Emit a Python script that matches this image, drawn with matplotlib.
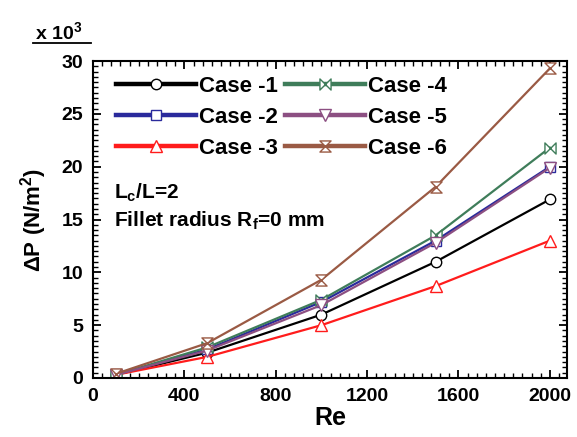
import matplotlib
matplotlib.use("Agg")
import matplotlib.pyplot as plt
from matplotlib.lines import Line2D
from matplotlib.path import Path
from matplotlib.ticker import MultipleLocator

plt.rcParams["font.family"] = ["Liberation Sans", "DejaVu Sans"]
plt.rcParams["font.weight"] = "bold"
plt.rcParams["axes.labelweight"] = "bold"
plt.rcParams["mathtext.fontset"] = "custom"
plt.rcParams["mathtext.rm"] = "Liberation Sans:bold"
plt.rcParams["mathtext.it"] = "Liberation Sans:bold"
plt.rcParams["mathtext.bf"] = "Liberation Sans:bold"

# Re values and pressure drop (x 10^3 N/m^2) for each case
re = [100, 500, 1000, 1500, 2000]
case1 = [0.3, 2.4, 6.0, 11.0, 16.9]
case2 = [0.3, 2.7, 7.2, 13.0, 20.0]
case3 = [0.3, 2.0, 5.0, 8.7, 13.0]
case4 = [0.3, 2.9, 7.4, 13.5, 21.8]
case5 = [0.3, 2.6, 6.9, 12.8, 19.9]
case6 = [0.4, 3.3, 9.3, 18.1, 29.3]

labels = ["Case -1", "Case -2", "Case -3", "Case -4", "Case -5", "Case -6"]
colors = ["#000000", "#2a2a9c", "#ff1c1c", "#3f7d5a", "#8c4f82", "#9a5a44"]

# custom markers: sideways bowtie and hourglass
C = Path.CLOSEPOLY
bowtie = Path([(-1, -1), (-1, 1), (1, -1), (1, 1), (-1, -1)],
              [Path.MOVETO, Path.LINETO, Path.LINETO, Path.LINETO, C])
hourglass = Path([(-1, 1), (1, 1), (-1, -1), (1, -1), (-1, 1)],
                 [Path.MOVETO, Path.LINETO, Path.LINETO, Path.LINETO, C])
markers = ["o", "s", "^", bowtie, "v", hourglass]
msizes = [7.5, 7.5, 8.5, 8, 8.5, 8]

fig = plt.figure(figsize=(5.77, 4.37), dpi=100)
ax = fig.add_axes([93 / 577, 1 - 378 / 437, (567 - 93) / 577, (378 - 61) / 437])

series = [case1, case2, case3, case4, case5, case6]
for ys, c, m, ms in zip(series, colors, markers, msizes):
    ax.plot(re, ys, color=c, lw=1.6, marker=m, ms=ms, mfc="white",
            mec=c, mew=1.0)

ax.set_xlim(0, 2075)
ax.set_ylim(0, 30)
ax.xaxis.set_major_locator(MultipleLocator(400))
ax.xaxis.set_minor_locator(MultipleLocator(40))
ax.yaxis.set_major_locator(MultipleLocator(5))
ax.yaxis.set_minor_locator(MultipleLocator(0.5))
ax.tick_params(which="both", direction="in", top=True, right=True,
               labelsize=14, pad=7)
ax.tick_params(which="major", length=6, width=1.3)
ax.tick_params(which="minor", length=3.5, width=1.0)
for sp in ax.spines.values():
    sp.set_linewidth(1.5)

ax.set_xlabel("Re", fontsize=18, labelpad=1)
ax.set_ylabel("ΔP (N/m$^2$)", fontsize=16, labelpad=9)

# legend with thicker lines than the plotted curves
handles = [Line2D([], [], color=c, lw=3.2, marker=m, ms=ms, mfc="white",
                  mec=c, mew=1.0)
           for c, m, ms in zip(colors, markers, msizes)]
ax.legend(handles, labels, ncol=2, loc="upper left",
          bbox_to_anchor=(0.02, 0.995), frameon=False, fontsize=16,
          handlelength=3.6, handletextpad=0.15, columnspacing=0.3,
          labelspacing=0.45, borderaxespad=0.2)

ax.text(0.045, 0.565, r"L$_c$/L=2", transform=ax.transAxes, fontsize=15)
ax.text(0.045, 0.478, r"Fillet radius R$_f$=0 mm", transform=ax.transAxes,
        fontsize=15)

# scale factor above the y axis
fig.text(35 / 577, 1 - 39 / 437, "x 10$^3$", fontsize=14)
fig.add_artist(Line2D([33 / 577, 91 / 577], [1 - 43 / 437, 1 - 43 / 437],
                      color="black", lw=1.3, transform=fig.transFigure))

fig.savefig("out.png", dpi=100)
